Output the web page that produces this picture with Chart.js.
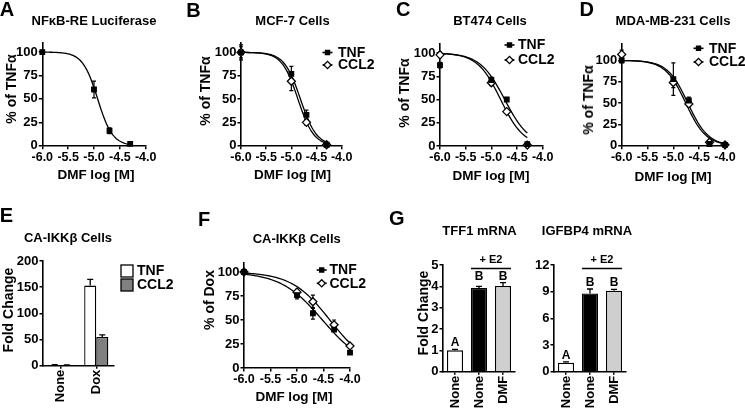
<!DOCTYPE html>
<html lang="en">
<head>
<meta charset="UTF-8">
<title>DMF dose response figure</title>
<script src="https://cdn.jsdelivr.net/npm/chart.js"></script>
<style>
  body { margin: 0; background: #fff; }
  #fig { position: relative; width: 745px; height: 409px; overflow: hidden;
         font-family: 'Liberation Sans', Arial, sans-serif; font-weight: bold; color: #000; }
  #fig canvas { position: absolute; left: 0; top: 0; }
  .lbl { position: absolute; white-space: nowrap; line-height: 1; transform: translate(-50%, -50%); }
  .rot { transform: translate(-50%, -50%) rotate(-90deg); }
</style>
</head>
<body>
<div id="fig"></div>
<script>
// ---- data ----
const doseLog  = [-6.0, -5.0, -4.7, -4.3];        // DMF log [M]
const doseLog5 = [-6.0, -5.0, -4.7, -4.3, -4.0];

// A: NFkB-RE luciferase
const lucMean = [100, 60, 16, 2];
const lucSem  = [1, 9, 3, 1];
const lucFit  = [-4.93, 3.0];                    // logIC50, Hill slope

// B: MCF-7
const mcfTnf = [100, 77, 33, 1];   const mcfTnfSem = [8, 8, 5, 1];   const mcfTnfFit = [-4.82, 2.7];
const mcfCcl2 = [100, 69, 25, 1];  const mcfCcl2Sem = [6, 10, 3, 1]; const mcfCcl2Fit = [-4.87, 2.75];

// C: BT474
const btTnf = [87, 71, 50, 2];     const btTnfSem = [3, 3, 2, 1];    const btTnfFit = [-4.74, 1.8];
const btCcl2 = [98, 68, 37, 1];    const btCcl2Sem = [3, 3, 2, 1];   const btCcl2Fit = [-4.82, 1.93];

// D: MDA-MB-231
const mdaTnf = [100, 78, 53, 2, 1];  const mdaTnfSem = [3, 19, 4, 1, 1];  const mdaTnfFit = [-4.72, 2.2];
const mdaCcl2 = [107, 74, 49, 4, 1]; const mdaCcl2Sem = [5, 6, 3, 1, 1];  const mdaCcl2Fit = [-4.76, 2.2];

// E: CA-IKKb fold change
const ikkCats = ['None', 'Dox'];
const ikkTnf = [1.5, 153];  const ikkTnfSem = [0.5, 12];
const ikkCcl2 = [1.0, 55];  const ikkCcl2Sem = [0.5, 4];

// F: CA-IKKb % of Dox
const caTnf = [100, 76, 57, 40, 16];  const caTnfSem = [2, 4, 6, 2, 1];  const caTnfFit = [-4.52, 1.1];
const caCcl2 = [100, 79, 69, 45, 23]; const caCcl2Sem = [2, 3, 7, 5, 2]; const caCcl2Fit = [-4.38, 1.2];

// G: mRNA fold change
const mrnaCats = ['None', 'None', 'DMF'];
const mrnaLetters = ['A', 'B', 'B'];
const tff1 = [1.0, 3.92, 4.02];   const tff1Sem = [0.05, 0.08, 0.15];
const igfbp4 = [1.0, 8.8, 9.1];   const igfbp4Sem = [0.1, 0.5, 0.15];

// ---- setup ----
const W = 745, H = 409;
const FONT = "'Liberation Sans', Arial, sans-serif";
Chart.defaults.font.family = FONT;
Chart.defaults.font.weight = 'bold';
Chart.defaults.font.size = 12;
Chart.defaults.color = '#000';
Chart.defaults.animation = false;
Chart.defaults.plugins.legend.display = false;
Chart.defaults.plugins.tooltip.enabled = false;

const fig = document.getElementById('fig');

function addCanvas() {
  const c = document.createElement('canvas');
  c.width = W; c.height = H;
  fig.appendChild(c);
  return c;
}

function addLabel(text, x, y, size, rot) {
  const d = document.createElement('div');
  d.className = 'lbl' + (rot ? ' rot' : '');
  d.textContent = text;
  d.style.left = x + 'px'; d.style.top = y + 'px';
  d.style.fontSize = size + 'px';
  fig.appendChild(d);
}

const tickGrid = { drawOnChartArea: false, drawTicks: true, tickLength: 3.5, color: '#000', lineWidth: 1.5 };
const axisBorder = { display: true, color: '#000', width: 1.6 };

// error bars, fitted curves, legends and labels
const marks = {
  id: 'marks',
  beforeDatasetsDraw(chart, args, o) {
    if (!o.curves) return;
    const { ctx, scales: { x, y } } = chart;
    ctx.save();
    ctx.strokeStyle = '#000';
    chart.data.datasets.forEach(ds => {
      ctx.lineWidth = 1.2;
      ds.data.forEach((p, i) => {
        const e = ds.err[i];
        if (!e) return;
        const px = x.getPixelForValue(p.x);
        const lo = y.getPixelForValue(p.y - e), hi = y.getPixelForValue(p.y + e);
        ctx.beginPath();
        ctx.moveTo(px, lo); ctx.lineTo(px, hi);
        ctx.moveTo(px - 2, lo); ctx.lineTo(px + 2, lo);
        ctx.moveTo(px - 2, hi); ctx.lineTo(px + 2, hi);
        ctx.stroke();
      });
      // sigmoidal dose response, bottom 0 / top 100
      const [logIC50, hill] = ds.fit;
      const x0 = ds.data[0].x, x1 = ds.data[ds.data.length - 1].x;
      ctx.lineWidth = 1.3;
      ctx.beginPath();
      for (let k = 0; k <= 100; k++) {
        const v = x0 + (x1 - x0) * k / 100;
        const r = 100 / (1 + Math.pow(10, (v - logIC50) * hill));
        const px = x.getPixelForValue(v), py = y.getPixelForValue(r);
        if (k) ctx.lineTo(px, py); else ctx.moveTo(px, py);
      }
      ctx.stroke();
    });
    ctx.restore();
  },
  afterDatasetsDraw(chart, args, o) {
    const { ctx, scales: { y } } = chart;
    ctx.save();
    ctx.strokeStyle = '#000';
    ctx.fillStyle = '#000';
    if (o.bars) {
      ctx.lineWidth = 1.3;
      chart.data.datasets.forEach((ds, di) => {
        chart.getDatasetMeta(di).data.forEach((el, i) => {
          const hi = y.getPixelForValue(ds.data[i] + ds.err[i]);
          ctx.beginPath();
          ctx.moveTo(el.x, el.y); ctx.lineTo(el.x, hi);
          ctx.moveTo(el.x - 3, hi); ctx.lineTo(el.x + 3, hi);
          ctx.stroke();
        });
      });
    }
    if (o.letters) {
      const ds = chart.data.datasets[0], meta = chart.getDatasetMeta(0);
      const top = {};
      o.letters.forEach((l, i) => {
        const t = ds.data[i] + ds.err[i];
        top[l] = Math.max(top[l] || 0, t);
      });
      ctx.font = 'bold 12px ' + FONT;
      ctx.textAlign = 'center'; ctx.textBaseline = 'middle';
      o.letters.forEach((l, i) => {
        ctx.fillText(l, meta.data[i].x, y.getPixelForValue(top[l]) - 6.5);
      });
    }
    if (o.bracket) {
      const meta = chart.getDatasetMeta(0), b = o.bracket;
      const a = meta.data[b.from], z = meta.data[b.to];
      const xl = a.x - a.width / 2, xr = z.x + z.width / 2;
      ctx.lineWidth = 1.3;
      ctx.beginPath(); ctx.moveTo(xl, b.lineY); ctx.lineTo(xr, b.lineY); ctx.stroke();
      ctx.font = 'bold 11px ' + FONT;
      ctx.textAlign = 'center'; ctx.textBaseline = 'middle';
      ctx.fillText(b.text, (xl + xr) / 2, b.textY);
    }
    if (o.legend) {
      const lg = o.legend;
      ctx.font = 'bold 14px ' + FONT;
      ctx.textAlign = 'left'; ctx.textBaseline = 'middle';
      chart.data.datasets.forEach((ds, i) => {
        const yy = lg.y[i];
        if (lg.kind === 'box') {
          ctx.lineWidth = 1.3;
          ctx.fillStyle = ds.backgroundColor;
          ctx.fillRect(lg.x, yy - 6, 12, 12);
          ctx.strokeRect(lg.x, yy - 6, 12, 12);
        } else {
          ctx.lineWidth = 1.6;
          ctx.beginPath(); ctx.moveTo(lg.x - 5, yy); ctx.lineTo(lg.x + 5, yy); ctx.stroke();
          ctx.fillStyle = ds.pointBackgroundColor;
          ctx.lineWidth = ds.pointBorderWidth;
          Chart.helpers.drawPoint(ctx, { pointStyle: ds.pointStyle, radius: ds.pointRadius * 0.9,
                                         borderWidth: ds.pointBorderWidth, rotation: 0 }, lg.x, yy);
        }
        ctx.fillStyle = '#000';
        ctx.fillText(ds.label, lg.tx, yy + 0.5);
      });
    }
    ctx.restore();
  }
};
Chart.register(marks);

function framePadding(area, yW, xH) {
  return { left: area.l - yW, top: area.t, right: W - area.r, bottom: H - area.b - xH };
}

function doseSeries(label, y, err, fit, open, xs) {
  return {
    label,
    data: xs.map((x, i) => ({ x, y: y[i] })),
    err, fit,
    showLine: false,
    pointStyle: open ? 'rectRot' : 'rect',
    pointRadius: open ? 4 : 3.2,
    pointBackgroundColor: open ? '#fff' : '#000',
    pointBorderColor: '#000',
    pointBorderWidth: 1.3
  };
}

function doseChart(area, ymax, datasets, legend) {
  new Chart(addCanvas(), {
    type: 'scatter',
    data: { datasets },
    options: {
      responsive: false, devicePixelRatio: 1, clip: false,
      layout: { padding: framePadding(area, 40, 25) },
      scales: {
        x: {
          type: 'linear', min: -6, max: -4,
          afterFit: s => { s.height = 25; },
          ticks: { stepSize: 0.5, padding: 1, maxRotation: 0, autoSkip: false,
                   font: { size: 12.5 }, callback: v => v.toFixed(1) },
          grid: tickGrid, border: axisBorder
        },
        y: {
          min: 0, max: ymax,
          afterFit: s => { s.width = 40; },
          ticks: { stepSize: 25, includeBounds: false, padding: 1, font: { size: 13 } },
          grid: tickGrid, border: axisBorder
        }
      },
      plugins: { marks: { curves: true, legend } }
    }
  });
}

function barChart(area, cats, datasets, ymax, step, barOpts, extra) {
  new Chart(addCanvas(), {
    type: 'bar',
    data: { labels: cats, datasets },
    options: {
      responsive: false, devicePixelRatio: 1,
      layout: { padding: framePadding(area, 40, 36) },
      datasets: { bar: barOpts },
      scales: {
        x: {
          afterFit: s => { s.height = 36; },
          ticks: { minRotation: 90, maxRotation: 90, padding: 1, autoSkip: false, font: { size: 13 } },
          grid: Object.assign({}, tickGrid, { offset: false, tickLength: 3 }),
          border: axisBorder
        },
        y: {
          min: 0, max: ymax,
          afterFit: s => { s.width = 40; },
          ticks: { stepSize: step, includeBounds: false, padding: 1, font: { size: 13 } },
          grid: tickGrid, border: axisBorder
        }
      },
      plugins: { marks: Object.assign({ bars: true }, extra) }
    }
  });
}

// ---- panels ----
doseChart({ l: 42.3, r: 145.7, t: 42.7, b: 145.7 }, 110,
  [doseSeries('', lucMean, lucSem, lucFit, false, doseLog)], null);

doseChart({ l: 241, r: 341.7, t: 43, b: 145.7 }, 110, [
  doseSeries('TNF', mcfTnf, mcfTnfSem, mcfTnfFit, false, doseLog),
  doseSeries('CCL2', mcfCcl2, mcfCcl2Sem, mcfCcl2Fit, true, doseLog)
], { x: 327.5, tx: 338, y: [52.5, 65] });

doseChart({ l: 440, r: 542.7, t: 43.7, b: 146 }, 110, [
  doseSeries('TNF', btTnf, btTnfSem, btTnfFit, false, doseLog),
  doseSeries('CCL2', btCcl2, btCcl2Sem, btCcl2Fit, true, doseLog)
], { x: 509.5, tx: 518, y: [45, 60] });

doseChart({ l: 621.7, r: 725, t: 43.3, b: 145.7 }, 120, [
  doseSeries('TNF', mdaTnf, mdaTnfSem, mdaTnfFit, false, doseLog5),
  doseSeries('CCL2', mdaCcl2, mdaCcl2Sem, mdaCcl2Fit, true, doseLog5)
], { x: 698.5, tx: 709, y: [48.3, 62] });

barChart({ l: 43, r: 114, t: 261, b: 365.7 }, ikkCats, [
  { label: 'TNF', data: ikkTnf, err: ikkTnfSem, backgroundColor: '#ffffff', borderColor: '#000', borderWidth: 1.3 },
  { label: 'CCL2', data: ikkCcl2, err: ikkCcl2Sem, backgroundColor: '#808080', borderColor: '#000', borderWidth: 1.3 }
], 200, 50, { categoryPercentage: 0.68, barPercentage: 1 },
  { legend: { kind: 'box', x: 121, tx: 137, y: [271, 285] } });

doseChart({ l: 244, r: 350, t: 262.4, b: 368 }, 110, [
  doseSeries('TNF', caTnf, caTnfSem, caTnfFit, false, doseLog5),
  doseSeries('CCL2', caCcl2, caCcl2Sem, caCcl2Fit, true, doseLog5)
], { x: 321.7, tx: 329.5, y: [270, 283.3] });

barChart({ l: 443, r: 515, t: 265, b: 371.7 }, mrnaCats, [
  { label: 'TFF1', data: tff1, err: tff1Sem, backgroundColor: ['#ffffff', '#000000', '#cfcfcf'],
    borderColor: '#000', borderWidth: 1.3 }
], 5, 1, { categoryPercentage: 1, barPercentage: 0.667 },
  { letters: mrnaLetters, bracket: { from: 1, to: 2, text: '+ E2', lineY: 268.5, textY: 259.5 } });

barChart({ l: 554, r: 626, t: 265, b: 371.7 }, mrnaCats, [
  { label: 'IGFBP4', data: igfbp4, err: igfbp4Sem, backgroundColor: ['#ffffff', '#000000', '#cfcfcf'],
    borderColor: '#000', borderWidth: 1.3 }
], 12, 3, { categoryPercentage: 1, barPercentage: 0.667 },
  { letters: mrnaLetters, bracket: { from: 1, to: 2, text: '+ E2', lineY: 268.5, textY: 259.5 } });

// ---- text ----
[['A', 7, 9], ['B', 193.5, 9.7], ['C', 403.3, 8.5], ['D', 586.7, 8.5],
 ['E', 6.5, 215.3], ['F', 204, 218.8], ['G', 396.7, 218.3]].forEach(t => addLabel(t[0], t[1], t[2], 20));

[['NF\u03baB-RE Luciferase', 94, 20], ['MCF-7 Cells', 292.5, 20], ['BT474 Cells', 490, 20],
 ['MDA-MB-231 Cells', 673, 20], ['CA-IKK\u03b2 Cells', 68, 237], ['CA-IKK\u03b2 Cells', 296.7, 238],
 ['TFF1 mRNA', 479.5, 230], ['IGFBP4 mRNA', 587, 230]].forEach(t => addLabel(t[0], t[1], t[2], 13));

[['DMF log [M]', 96, 175], ['DMF log [M]', 292.5, 175], ['DMF log [M]', 491, 176],
 ['DMF log [M]', 673, 177], ['DMF log [M]', 294, 397]].forEach(t => addLabel(t[0], t[1], t[2], 13.5));

[['% of TNF\u03b1', 10.5, 89], ['% of TNF\u03b1', 205, 91], ['% of TNF\u03b1', 404, 93],
 ['% of TNF\u03b1', 587.5, 100], ['Fold Change', 7.5, 310], ['% of Dox', 209, 300],
 ['Fold Change', 423, 313]].forEach(t => addLabel(t[0], t[1], t[2], 14, true));
</script>
</body>
</html>
